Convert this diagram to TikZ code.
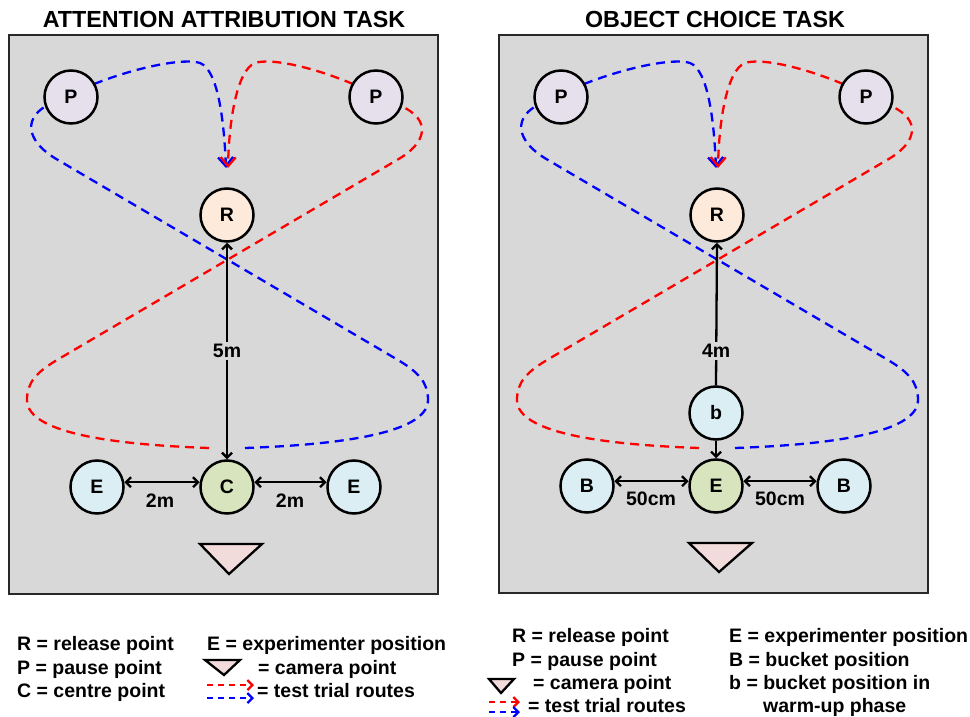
\documentclass[tikz,border=0pt]{standalone}
\usepackage{fontspec}
\setmainfont{Liberation Sans}
\usetikzlibrary{arrows.meta,calc}
\definecolor{boxgray}{RGB}{216,216,216}
\definecolor{boxline}{RGB}{40,40,40}
\definecolor{pcol}{RGB}{229,224,236}
\definecolor{rcol}{RGB}{253,234,218}
\definecolor{ccol}{RGB}{215,228,189}
\definecolor{ecol}{RGB}{219,238,244}
\definecolor{tcol}{RGB}{242,220,219}
\definecolor{routered}{RGB}{255,0,0}
\definecolor{routeblue}{RGB}{0,0,255}
\tikzset{
  spot/.style={circle,draw=black,line width=2.5pt,minimum size=53pt,inner sep=0pt,font=\fontsize{19.5}{21}\selectfont\bfseries},
  panelbox/.style={draw=boxline,fill=boxgray,line width=2pt},
  route/.style={line width=2.3pt,dash pattern=on 9pt off 6pt,-{Straight Barb[length=9pt,width=15pt,line width=2.3pt]}},
  routeplain/.style={line width=2.3pt,dash pattern=on 9pt off 6pt},
  meas/.style={line width=2.3pt,>={Straight Barb[length=5pt,width=10pt,line width=2.3pt]}},
  lbl/.style={font=\fontsize{19.5}{21}\selectfont\bfseries,inner sep=1pt},
  gaplbl/.style={font=\fontsize{19.5}{21}\selectfont\bfseries,fill=boxgray,inner sep=2pt},
  title/.style={font=\fontsize{23.3}{26}\selectfont\bfseries,anchor=base},
  leg/.style={font=\fontsize{19.5}{21}\selectfont\bfseries,anchor=base west,inner sep=0pt},
  cam/.style={draw=black,fill=tcol,line width=2.3pt,line join=miter},
  legarrow/.style={line width=2.3pt,dash pattern=on 6pt off 5pt,-{Straight Barb[length=5pt,width=10pt,line width=2.3pt]}}
}
\newcommand{\drawroutes}{%
  % blue: bottom loop to right, diagonal up-left, around left P
  \draw[routeblue,routeplain] (245,448) .. controls (330,445) and (428,435) .. (428,400)
     .. controls (428,382) and (418,372) .. (398,360) -- (58,160)
     .. controls (28,143) and (22,120) .. (46,106);
  \draw[routeblue,route] (94,84) .. controls (140,66) and (185,58) .. (200,63)
     .. controls (218,70) and (224,120) .. (226,168);
  % red: mirrored
  \draw[routered,routeplain] (209,448) .. controls (124,445) and (27,435) .. (27,400)
     .. controls (27,382) and (37,372) .. (57,360) -- (397,160)
     .. controls (427,143) and (432,120) .. (401,106);
  \draw[routered,route] (353,84) .. controls (310,66) and (270,58) .. (255,63)
     .. controls (237,70) and (229,120) .. (228,168);
}
\begin{document}
\begin{tikzpicture}[x=1pt,y=-1pt]
\useasboundingbox (0,0) rectangle (970,717);
\fill[white] (0,0) rectangle (970,717);

% ---------------- Left panel ----------------
\node[title] (t1) at (224,28) {ATTENTION ATTRIBUTION TASK};
\draw[panelbox] (9,35) rectangle (438,594);
\drawroutes
\node[spot,fill=pcol] (P1) at (71,97) {P};
\node[spot,fill=pcol] (P2) at (376,97) {P};
\node[spot,fill=rcol] (R1) at (227,215) {R};
\node[spot,fill=ccol] (C1) at (227,487) {C};
\node[spot,fill=ecol] (E1) at (97,487) {E};
\node[spot,fill=ecol] (E2) at (354,487) {E};
\draw[meas,<->] (R1.south) -- node[gaplbl] (d5) {5m} (C1.north);
\draw[meas,<->] (E1.10) -- (C1.170);
\draw[meas,<->] (C1.10) -- (E2.170);
\node[lbl] (d2a) at (160,501) {2m};
\node[lbl] (d2b) at (290,501) {2m};
\draw[cam] (200,544) -- (262,544) -- (229,574) -- cycle;

% ---------------- Right panel ----------------
\node[title] (t2) at (715,28) {OBJECT CHOICE TASK};
\draw[panelbox] (499,35) rectangle (928,593);
\begin{scope}[shift={(490,0)}]
\drawroutes
\end{scope}
\node[spot,fill=pcol] (P3) at (561,97) {P};
\node[spot,fill=pcol] (P4) at (866,97) {P};
\node[spot,fill=rcol] (R2) at (717,215) {R};
\node[spot,fill=ecol] (b2) at (716,413) {b};
\node[spot,fill=ccol] (E3) at (716,486) {E};
\node[spot,fill=ecol] (B1) at (587,486) {B};
\node[spot,fill=ecol] (B2) at (844,486) {B};
\draw[meas,->] (b2.north) -- node[gaplbl,pos=0.24] (d4) {4m} (R2.south);
\draw[meas,->] (b2.south) -- (E3.north);
\draw[meas,<->] (B1.10) -- (E3.170);
\draw[meas,<->] (E3.10) -- (B2.170);
\node[lbl] (c50a) at (651,499) {50cm};
\node[lbl] (c50b) at (780,499) {50cm};
\draw[cam] (689,543) -- (752,543) -- (719,572) -- cycle;

% ---------------- Left legend ----------------
\node[leg] (l1) at (17,650) {R = release point};
\node[leg] (l2) at (17,674) {P = pause point};
\node[leg] (l3) at (17,697) {C = centre point};
\node[leg] (l4) at (207,650) {E = experimenter position};
\draw[cam] (205,660) -- (240,660) -- (224,675) -- cycle;
\node[leg] (l5) at (258,674) {= camera point};
\coordinate (lr1) at (207,685);
\coordinate (lr2) at (254,685);
\coordinate (lb1) at (207,698);
\coordinate (lb2) at (254,698);
\draw[routered,legarrow] (lr1) -- (lr2);
\draw[routeblue,legarrow] (lb1) -- (lb2);
\node[leg] (l6) at (257,697) {= test trial routes};

% ---------------- Right legend ----------------
\node[leg] (m1) at (512,642) {R = release point};
\node[leg] (m2) at (512,666) {P = pause point};
\draw[cam] (489,679) -- (514,679) -- (501,693) -- cycle;
\node[leg] (m3) at (533,689) {= camera point};
\coordinate (mr1) at (489,702);
\coordinate (mr2) at (520,702);
\coordinate (mb1) at (489,712);
\coordinate (mb2) at (520,712);
\draw[routered,legarrow] (mr1) -- (mr2);
\draw[routeblue,legarrow] (mb1) -- (mb2);
\node[leg] (m4) at (528,712) {= test trial routes};
\node[leg] (m5) at (729,642) {E = experimenter position};
\node[leg] (m6) at (729,666) {B = bucket position};
\node[leg] (m7) at (729,689) {b = bucket position in};
\node[leg] (m8) at (763,712) {warm-up phase};
\end{tikzpicture}
\end{document}
